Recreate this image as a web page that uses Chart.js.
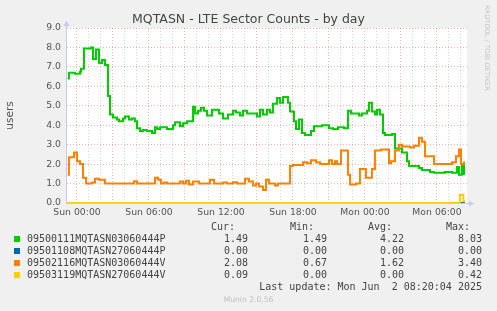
<!DOCTYPE html>
<html>
<head>
<meta charset="utf-8">
<script src="https://cdn.jsdelivr.net/npm/chart.js@4"></script>
<style>
  html, body { margin: 0; padding: 0; background: #f0f0f0; }
  #wrap { position: relative; width: 497px; height: 311px; overflow: hidden; font-family: "DejaVu Sans", sans-serif; }
  #chartBox { position: absolute; left: 0; top: 0; width: 497px; height: 222px; }
  .t { position: absolute; white-space: pre; }
  #title { left: 0; width: 497px; top: 11px; text-align: center; font-size: 12.5px; line-height: 16px; color: #444; }
  #rrd { left: 483px; top: 5px; writing-mode: vertical-rl; font-size: 6.5px; color: #c4c4c4; letter-spacing: 0.1px; }
  .mono { font-family: "DejaVu Sans Mono", monospace; font-size: 10px; line-height: 12px; color: #444; }
  .sq { position: absolute; left: 14px; width: 6px; height: 6px; }
  #munin { left: 0; width: 497px; text-align: center; top: 295px; font-size: 7.6px; color: #c0c0c0; }
</style>
</head>
<body>
<div id="wrap">
  <div id="chartBox"><canvas id="myChart"></canvas></div>
  <div class="t" id="title">MQTASN - LTE Sector Counts - by day</div>
  <div class="t" id="rrd">RRDTOOL / TOBI OETIKER</div>
  <div id="legend"></div>
  <div class="t" id="munin">Munin 2.0.56</div>
</div>
<script>
// hours relative to Sun 00:00, each value holds until the next hour mark
var greenHours = [-0.78,-0.67,-0.17,0.25,0.33,0.58,1.17,1.33,1.58,1.83,2.08,2.33,2.58,2.75,3.0,3.33,3.5,3.83,4.0,4.33,4.58,4.83,5.0,5.25,5.5,5.83,6.25,6.5,6.67,6.92,7.5,8.0,8.17,8.58,8.83,9.17,9.67,9.83,10.08,10.33,10.58,10.83,11.25,11.83,12.17,12.58,13.0,13.25,13.58,13.83,14.17,15.0,15.25,15.5,15.83,16.08,16.33,16.67,16.92,17.17,17.58,17.75,18.08,18.25,18.5,18.75,19.0,19.5,19.75,20.42,21.0,21.33,21.75,22.25,22.58,22.83,23.5,23.75,24.17,24.33,24.58,24.83,25.0,25.25,25.5,25.67,26.25,26.5,27.08,27.5,27.67,28.5,28.75,29.42,29.75,30.67,31.25,31.67,31.83,32.08,32.25];
var greenValues = [6.4,6.7,6.65,6.75,6.9,7.95,8.0,7.4,7.9,7.2,7.35,7.1,5.5,4.55,4.4,4.3,4.2,4.35,4.45,4.3,4.35,4.2,3.85,3.7,3.75,3.7,3.6,3.9,3.8,3.9,3.8,4.0,4.15,3.95,4.1,4.2,4.95,4.6,4.75,4.9,4.75,4.5,4.8,4.6,4.35,4.55,4.75,4.65,4.5,4.75,4.6,4.45,4.8,4.55,4.8,4.65,5.1,5.4,5.15,5.45,5.15,4.7,4.2,3.8,4.3,3.6,3.5,3.7,3.95,4.0,3.85,3.8,3.9,3.85,4.75,4.6,4.5,4.6,4.75,5.15,4.7,4.55,4.8,4.55,3.6,3.5,3.55,2.8,2.6,2.15,1.9,1.8,1.7,1.6,1.55,1.6,1.55,1.85,1.45,1.95,1.49];

var blueHours = [-0.78, 32.25];
var blueValues = [0, 0];

var orangeHours = [-0.78,-0.67,-0.25,0.0,0.25,0.5,0.75,1.25,1.5,1.83,2.33,4.75,5.0,6.5,6.75,7.0,7.25,7.5,8.58,8.83,9.08,9.33,9.67,10.17,11.08,11.42,12.17,12.5,13.0,13.33,14.0,14.33,14.67,14.92,15.17,15.5,15.75,16.0,16.5,16.75,17.75,18.0,18.83,19.17,19.5,19.92,20.25,21.0,21.25,21.5,21.67,22.0,22.58,22.75,23.25,23.58,24.08,24.58,24.83,25.33,26.0,26.17,26.5,26.83,27.08,27.75,28.08,28.5,28.75,29.0,29.75,31.25,31.58,31.83,32.0,32.25];
var orangeValues = [1.45,2.35,2.6,2.15,2.0,1.3,1.0,1.05,1.25,1.2,1.0,1.12,1.0,1.3,1.2,1.0,1.05,1.0,1.1,1.0,1.15,0.95,1.1,1.0,1.2,1.0,1.05,1.0,1.07,1.0,1.25,1.1,0.9,1.0,0.85,0.67,1.2,1.0,0.9,1.0,1.9,1.95,2.1,2.05,2.2,2.1,2.0,2.2,2.0,2.15,2.0,2.7,1.45,0.95,1.0,1.75,1.3,1.75,2.7,2.75,2.05,2.15,2.7,3.0,2.9,2.85,2.95,3.35,3.15,2.4,2.0,2.1,2.4,2.75,2.0,2.08];

var yellowHours = [-0.78, 31.9, 32.2];
var yellowValues = [0, 0.42, 0.09];

var seriesNames = ['09500111MQTASN03060444P', '09501108MQTASN27060444P', '09502116MQTASN03060444V', '09503119MQTASN27060444V'];
var seriesColors = ['#00cc00', '#0066b3', '#ff8000', '#ffcc00'];
var curValues = ['1.49', '0.00', '2.08', '0.09'];
var minValues = ['1.49', '0.00', '0.67', '0.00'];
var avgValues = ['4.22', '0.00', '1.62', '0.00'];
var maxValues = ['8.03', '0.00', '3.40', '0.42'];

var dayNames = ['Sun', 'Mon'];
var xMin = -0.833, xMax = 32.5, endHour = 32.33;

function points(hours, values) {
    var out = hours.map(function (h, i) { return {x: h, y: values[i]}; });
    out.push({x: endHour, y: values[values.length - 1]});
    return out;
}

function makeDataset(i, hours, values) {
    return {
        label: seriesNames[i],
        data: points(hours, values),
        borderColor: seriesColors[i],
        backgroundColor: seriesColors[i],
        borderWidth: 2,
        pointRadius: 0,
        stepped: true,
        order: 4 - i
    };
}

var plotStyle = {
    id: 'plotStyle',
    beforeDraw: function (chart) {
        var a = chart.chartArea, ctx = chart.ctx;
        ctx.save();
        ctx.fillStyle = '#ffffff';
        ctx.fillRect(a.left, a.top, a.right - a.left, a.bottom - a.top);
        ctx.restore();
    },
    beforeDatasetsDraw: function (chart) {
        var a = chart.chartArea, ctx = chart.ctx;
        var x0 = Math.round(a.left) - 0.5, y0 = Math.round(a.bottom) + 0.5;
        ctx.save();
        ctx.strokeStyle = '#c8c8f0';
        ctx.fillStyle = '#c8c8f0';
        ctx.lineWidth = 1;
        ctx.beginPath();
        ctx.moveTo(x0, y0);
        ctx.lineTo(x0, a.top - 3);
        ctx.moveTo(x0, y0);
        ctx.lineTo(a.right + 3, y0);
        ctx.stroke();
        ctx.beginPath();
        ctx.moveTo(x0 - 3, a.top - 2);
        ctx.lineTo(x0 + 3, a.top - 2);
        ctx.lineTo(x0, a.top - 7);
        ctx.closePath();
        ctx.fill();
        ctx.beginPath();
        ctx.moveTo(a.right + 2, y0 - 3);
        ctx.lineTo(a.right + 2, y0 + 3);
        ctx.lineTo(a.right + 7, y0);
        ctx.closePath();
        ctx.fill();
        ctx.restore();
    }
};

var ctx = document.getElementById('myChart');
new Chart(ctx, {
    type: 'line',
    data: {
        datasets: [
            makeDataset(0, greenHours, greenValues),
            makeDataset(1, blueHours, blueValues),
            makeDataset(2, orangeHours, orangeValues),
            makeDataset(3, yellowHours, yellowValues)
        ]
    },
    options: {
        responsive: true,
        maintainAspectRatio: false,
        animation: false,
        layout: { padding: { top: 28, right: 30, left: 0, bottom: 0 } },
        plugins: { legend: { display: false }, tooltip: { enabled: false }, title: { display: false } },
        scales: {
            x: {
                type: 'linear',
                min: xMin,
                max: xMax,
                afterBuildTicks: function (scale) {
                    var t = [];
                    for (var h = 0; h <= 32; h++) t.push({value: h});
                    scale.ticks = t;
                },
                afterFit: function (scale) { scale.height = 19; },
                grid: {
                    drawTicks: false,
                    color: function (c) { return (c.tick && c.tick.value % 3 === 0) ? 'rgba(225,120,120,0.55)' : 'rgba(170,170,170,0.5)'; }
                },
                border: { display: false, dash: [1, 2] },
                ticks: {
                    autoSkip: false, maxRotation: 0, minRotation: 0, padding: 4,
                    color: '#555', font: { family: 'DejaVu Sans', size: 9.3 },
                    callback: function (v) {
                        if (v % 6 !== 0) return '';
                        var d = dayNames[Math.floor(v / 24)];
                        var hh = v % 24;
                        return d + ' ' + (hh < 10 ? '0' : '') + hh + ':00';
                    }
                }
            },
            y: {
                min: 0,
                max: 9,
                afterBuildTicks: function (scale) {
                    var t = [];
                    for (var v = 0; v <= 18; v++) t.push({value: v / 2});
                    scale.ticks = t;
                },
                afterFit: function (scale) { scale.width = 67; },
                grid: {
                    drawTicks: false,
                    color: function (c) { return (c.tick && c.tick.value % 1 === 0) ? 'rgba(225,120,120,0.55)' : 'rgba(170,170,170,0.5)'; }
                },
                border: { display: false, dash: [1, 2] },
                title: { display: true, text: 'users', color: '#555', font: { family: 'DejaVu Sans', size: 10.5 }, padding: { top: 4, bottom: 0 } },
                ticks: {
                    padding: 6, color: '#555', font: { family: 'DejaVu Sans', size: 9.3 },
                    callback: function (v) { return v % 1 === 0 ? v.toFixed(1) : ''; }
                }
            }
        }
    },
    plugins: [plotStyle]
});

// legend table below the plot
var legend = document.getElementById('legend');
function addText(text, top, right, left) {
    var el = document.createElement('div');
    el.className = 't mono';
    el.textContent = text;
    el.style.top = top + 'px';
    if (right !== null) el.style.right = right + 'px';
    if (left !== null) el.style.left = left + 'px';
    legend.appendChild(el);
}
addText('Cur:', 221, 262, null);
addText('Min:', 221, 183, null);
addText('Avg:', 221, 105, null);
addText('Max:', 221, 27, null);
var rowTops = [233, 245, 257, 269];
seriesNames.forEach(function (name, i) {
    var sq = document.createElement('div');
    sq.className = 'sq';
    sq.style.top = (rowTops[i] + 3) + 'px';
    sq.style.background = seriesColors[i];
    legend.appendChild(sq);
    addText(name, rowTops[i], null, 27);
    addText(curValues[i], rowTops[i], 249, null);
    addText(minValues[i], rowTops[i], 170, null);
    addText(avgValues[i], rowTops[i], 93, null);
    addText(maxValues[i], rowTops[i], 15, null);
});
addText('Last update: Mon Jun  2 08:20:04 2025', 281, 15, null);
</script>
</body>
</html>
